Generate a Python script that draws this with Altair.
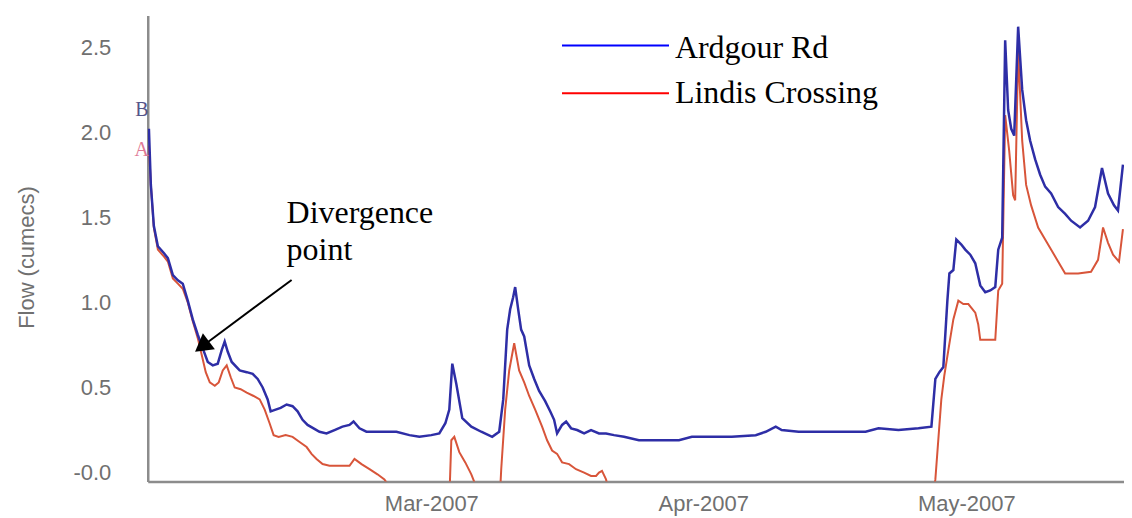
import altair as alt
import pandas as pd

BASE = pd.Timestamp("2007-01-28")

# Ardgour Rd (blue) : day offset from 28 Jan 2007, flow (cumecs)
blue_day = [-0.20, 0.02, 0.36, 0.82, 1.50, 1.96, 2.53, 3.10, 3.66, 4.23, 4.80, 5.37, 5.94, 6.51,
            7.08, 7.65, 8.10, 8.44, 8.79, 9.24, 10.15, 10.95, 11.63, 12.20, 12.77, 13.34, 13.68,
            14.25, 14.82, 15.50, 16.18, 16.75, 17.32, 17.89, 18.57, 19.25, 20.05, 20.96, 21.87,
            22.67, 23.13, 23.81, 24.60, 26.08, 28.02, 29.50, 30.64, 32.00, 32.91, 33.60, 34.05,
            34.39, 34.85, 35.53, 36.56, 37.69, 38.94, 39.74, 40.20, 40.65, 40.99, 41.33, 41.56,
            41.90, 42.24, 42.59, 43.16, 43.73, 44.29, 44.98, 45.55, 46.00, 46.34, 46.91, 47.37,
            47.94, 48.62, 49.42, 50.21, 51.12, 51.92, 52.83, 53.97, 55.67, 57.95, 60.23, 61.71,
            63.64, 66.26, 68.99, 70.13, 71.27, 71.95, 73.88, 77.64, 81.51, 82.99, 85.26, 87.54,
            89.02, 89.47, 89.93, 90.38, 90.84, 91.07, 91.52, 91.86, 92.43, 92.88, 93.45, 94.02,
            94.59, 95.16, 95.73, 96.30, 96.64, 97.09, 97.43, 97.77, 98.12, 98.46, 98.91, 99.37,
            99.82, 100.28, 100.85, 101.42, 101.99, 102.67, 103.47, 104.27, 104.95, 105.97,
            106.88, 107.68, 108.47, 109.16, 109.84, 110.29, 110.86]
blue_flow = [2.02, 1.69, 1.45, 1.33, 1.29, 1.26, 1.16, 1.13, 1.11, 1.01, 0.90, 0.81, 0.73, 0.65,
             0.63, 0.64, 0.72, 0.77, 0.71, 0.65, 0.60, 0.59, 0.58, 0.55, 0.50, 0.43, 0.36,
             0.37, 0.38, 0.40, 0.39, 0.36, 0.31, 0.28, 0.26, 0.24, 0.23, 0.25, 0.27,
             0.28, 0.30, 0.26, 0.24, 0.24, 0.24, 0.22, 0.21, 0.22, 0.23, 0.29, 0.37,
             0.64, 0.52, 0.32, 0.27, 0.24, 0.21, 0.24, 0.43, 0.84, 0.96, 1.03, 1.09,
             0.96, 0.84, 0.80, 0.63, 0.55, 0.48, 0.42, 0.36, 0.31, 0.23, 0.28, 0.30,
             0.26, 0.25, 0.23, 0.25, 0.23, 0.23, 0.22, 0.21, 0.19, 0.19, 0.19, 0.21,
             0.21, 0.21, 0.22, 0.24, 0.27, 0.25, 0.24, 0.24, 0.24, 0.26, 0.25, 0.26,
             0.27, 0.55, 0.59, 0.62, 1.01, 1.17, 1.19, 1.37, 1.34, 1.31, 1.28, 1.23,
             1.10, 1.06, 1.07, 1.09, 1.31, 1.38, 2.54, 2.13, 2.02, 1.98, 2.62, 2.25,
             2.07, 1.95, 1.84, 1.75, 1.68, 1.64, 1.56, 1.52, 1.48, 1.44,
             1.48, 1.56, 1.79, 1.64, 1.57, 1.54, 1.81]

# Lindis Crossing (red)
red_day = [-0.20, 0.02, 0.36, 0.82, 1.50, 1.96, 2.53, 3.10, 3.66, 4.23, 4.80, 5.37, 5.83, 6.28,
           6.74, 7.31, 7.76, 8.22, 8.67, 9.13, 9.58, 10.26, 10.95, 11.74, 12.43, 13.00, 13.56,
           14.02, 14.59, 15.39, 16.18, 16.98, 17.78, 18.34, 18.91, 19.60, 20.39, 21.53, 22.67,
           23.24, 24.04, 24.95, 25.86, 26.65, 27.45, 30.64, 33.94, 34.28, 34.62, 35.19, 35.87,
           36.56, 37.24, 38.60, 39.63, 39.97, 40.42, 40.88, 41.45, 42.01, 42.59, 43.16, 43.84,
           44.63, 45.20, 45.77, 46.34, 46.91, 47.71, 48.50, 49.42, 50.21, 50.78, 51.12, 51.46,
           51.92, 52.48, 71.59, 88.67, 89.47, 90.15, 90.49, 90.95, 91.52, 92.09, 92.66, 93.23,
           94.02, 94.36, 94.59, 95.50, 96.30, 96.64, 97.09, 97.43, 97.89, 98.34, 98.57, 98.91,
           99.37, 99.82, 100.39, 101.19, 101.99, 103.13, 104.27, 105.75, 107.22, 108.02,
           108.59, 109.16, 109.73, 110.41, 110.86]
red_flow = [1.92, 1.69, 1.44, 1.31, 1.27, 1.24, 1.14, 1.11, 1.08, 1.00, 0.89, 0.79, 0.69, 0.59,
            0.53, 0.51, 0.53, 0.60, 0.63, 0.56, 0.50, 0.49, 0.47, 0.45, 0.43, 0.37, 0.29,
            0.22, 0.21, 0.22, 0.21, 0.18, 0.15, 0.11, 0.08, 0.05, 0.04, 0.04, 0.04,
            0.08, 0.05, 0.02, -0.01, -0.04, -0.10, -0.30, -0.33, 0.19, 0.21, 0.12, 0.06,
            -0.01, -0.10, -0.33, -0.33, 0.02, 0.37, 0.60, 0.76, 0.60, 0.53, 0.45, 0.37,
            0.27, 0.19, 0.13, 0.11, 0.06, 0.05, 0.02, 0.00, -0.02, -0.02, 0.00, 0.01,
            -0.04, -0.16, -0.33, -0.33, -0.04, 0.43, 0.57, 0.72, 0.90, 1.01, 0.99, 0.99,
            0.94, 0.87, 0.78, 0.78, 0.78, 1.07, 1.11, 2.10, 1.89, 1.63, 1.60, 2.48,
            1.95, 1.69, 1.57, 1.44, 1.37, 1.27, 1.17, 1.17, 1.18, 1.25,
            1.44, 1.35, 1.28, 1.24, 1.43]

series_names = ["Ardgour Rd", "Lindis Crossing"]
line_colors = ["#2e2ea6", "#d8553a"]
legend_colors = ["#0000ff", "#ff0000"]
y_ticks = [0.0, 0.5, 1.0, 1.5, 2.0, 2.5]

# legend / annotation anchors (day offset, flow)
legend_line_day = [46.9, 59.1]
legend_line_flow = [2.510, 2.229]
legend_text_day = 59.77
legend_text_flow = [2.434, 2.170]
note_text = "Divergence\npoint"
note_day, note_flow = 15.5, 1.466
arrow_from = (16.07, 1.132)
arrow_to = (5.85, 0.741)
site_labels = ["B", "A"]
site_label_day = [-0.33, -0.33]
site_label_flow = [2.13, 1.894]
site_label_colors = ["#55558a", "#e07a95"]


def to_dates(days):
    return [BASE + pd.Timedelta(days=d) for d in days]


x_enc = alt.X(
    "date:T",
    scale=alt.Scale(domain=[alt.DateTime(year=2007, month=1, date=27, hours=16),
                            alt.DateTime(year=2007, month=5, date=18, hours=23, minutes=30)]),
    axis=alt.Axis(values=[alt.DateTime(year=2007, month=3, date=1),
                          alt.DateTime(year=2007, month=4, date=1),
                          alt.DateTime(year=2007, month=5, date=1)],
                  format="%b-%Y", title=None, grid=False, ticks=False, tickSize=0,
                  labelPadding=12, labelFlush=False, labelFont="Liberation Sans",
                  labelFontSize=22, labelColor="#707070", domainColor="#8c8c8c",
                  domainWidth=2.5),
)
y_enc = alt.Y(
    "flow:Q",
    scale=alt.Scale(domain=[-0.053, 2.686], nice=False, zero=False),
    axis=alt.Axis(values=y_ticks,
                  labelExpr="datum.value == 0 ? '-0.0' : format(datum.value, '.1f')",
                  title="Flow (cumecs)", titleX=-121, titleY=242, titleAngle=270,
                  titleBaseline="middle", titleAlign="center", titleFont="Liberation Sans",
                  titleFontSize=22, titleFontWeight="normal", titleColor="#707070",
                  grid=False, ticks=False, tickSize=0, labelPadding=37,
                  labelFont="Liberation Sans", labelFontSize=22, labelColor="#707070",
                  domainColor="#8c8c8c", domainWidth=2.5),
)

red_df = pd.DataFrame({"date": to_dates(red_day), "flow": red_flow})
blue_df = pd.DataFrame({"date": to_dates(blue_day), "flow": blue_flow})

red_line = alt.Chart(red_df).mark_line(color=line_colors[1], strokeWidth=2, clip=True).encode(x=x_enc, y=y_enc)
blue_line = alt.Chart(blue_df).mark_line(color=line_colors[0], strokeWidth=2.5, clip=True).encode(x=x_enc, y=y_enc)

leg_df = pd.DataFrame({
    "date": to_dates([legend_line_day[0]] * 2),
    "date2": to_dates([legend_line_day[1]] * 2),
    "flow": legend_line_flow,
    "color": legend_colors,
})
leg_rules = alt.Chart(leg_df).mark_rule(strokeWidth=2).encode(
    x=x_enc, x2="date2:T", y=y_enc, color=alt.Color("color:N", scale=None))

leg_txt_df = pd.DataFrame({
    "date": to_dates([legend_text_day] * 2),
    "flow": legend_text_flow,
    "label": series_names,
})
leg_text = alt.Chart(leg_txt_df).mark_text(
    align="left", baseline="alphabetic", font="Liberation Serif", fontSize=32, color="black"
).encode(x=x_enc, y=y_enc, text="label:N")

note_df = pd.DataFrame({"date": to_dates([note_day]), "flow": [note_flow], "label": [note_text]})
note = alt.Chart(note_df).mark_text(
    align="left", baseline="alphabetic", font="Liberation Serif", fontSize=32, color="black",
    lineBreak="\n", lineHeight=37
).encode(x=x_enc, y=y_enc, text="label:N")

arrow_df = pd.DataFrame({
    "date": to_dates([arrow_from[0]]), "flow": [arrow_from[1]],
    "date2": to_dates([arrow_to[0]]), "flow2": [arrow_to[1]],
})
arrow_line = alt.Chart(arrow_df).mark_rule(color="black", strokeWidth=2).encode(
    x=x_enc, y=y_enc, x2="date2:T", y2="flow2:Q")
head_df = pd.DataFrame({"date": to_dates([arrow_to[0]]), "flow": [arrow_to[1]]})
arrow_head = alt.Chart(head_df).mark_point(
    shape="triangle-up", size=400, angle=233, filled=True, color="black", opacity=1
).encode(x=x_enc, y=y_enc)

site_df = pd.DataFrame({
    "date": to_dates(site_label_day), "flow": site_label_flow,
    "label": site_labels, "color": site_label_colors,
})
site_text = alt.Chart(site_df).mark_text(
    align="center", baseline="middle", font="Liberation Serif", fontSize=20, dx=-6
).encode(x=x_enc, y=y_enc, text="label:N", color=alt.Color("color:N", scale=None))

chart = alt.layer(
    red_line, blue_line, leg_rules, leg_text, note, arrow_line, arrow_head, site_text
).properties(
    width=978, height=467,
    autosize=alt.AutoSizeParams(type="none"),
    padding={"left": 140, "top": 7, "right": 0, "bottom": 36},
    background="white",
).configure_view(stroke=None)

chart.save("out.html", embed_options={"renderer": "svg", "actions": False})
